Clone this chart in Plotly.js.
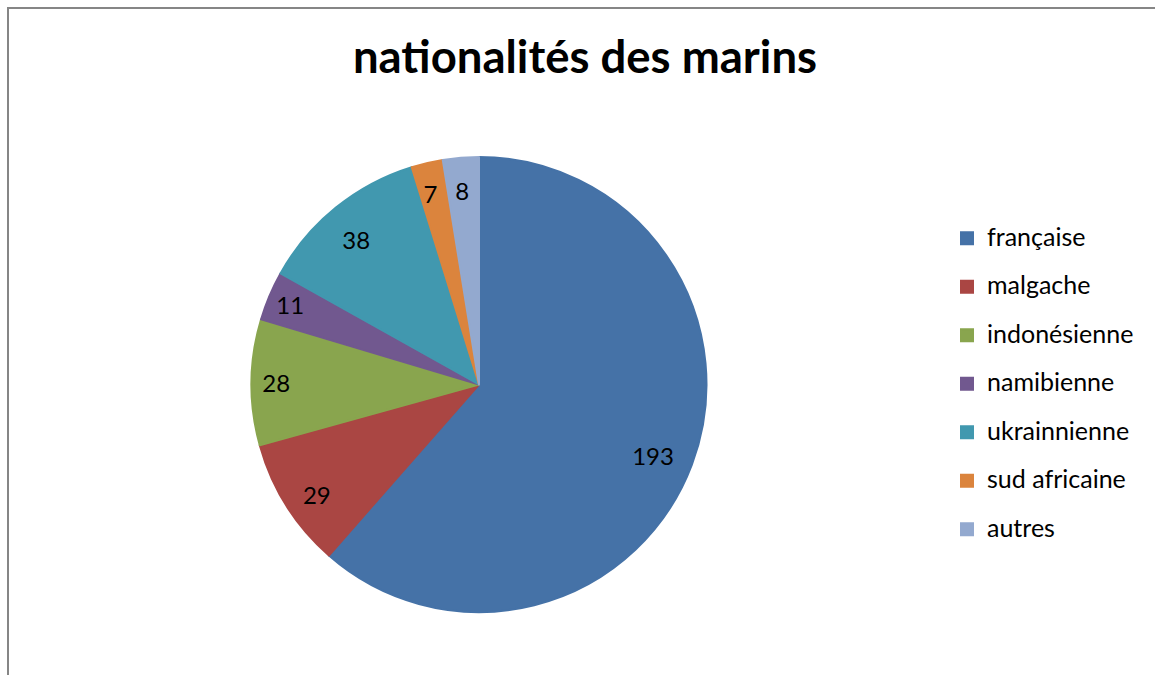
<!DOCTYPE html>
<html>
<head>
<meta charset="utf-8">
<script src="https://cdn.plot.ly/plotly-3.0.1.min.js"></script>
<style>html,body{margin:0;padding:0;background:#fff;}#chart{width:1155px;height:675px;}
#chart text{font-variant-ligatures:none;}</style>
</head>
<body>
<div id="chart"></div>
<script>
const categories = ["française", "malgache", "indonésienne", "namibienne", "ukrainnienne", "sud africaine", "autres"];
const values = [193, 29, 28, 11, 38, 7, 8];
const colors = ["#4572A7", "#AA4643", "#89A54E", "#71588F", "#4198AF", "#DB843D", "#93A9CF"];
const titleText = "nationalités des marins";

const FONT = "Lato, 'Open Sans', sans-serif";
const legendLabels = categories.map(c => '<span style="font-size:25px;baseline-shift:6px">' + c + '</span>');

// label placement nudges (padding with non-breaking spaces / blank lines), mimicking Excel's best-fit label spots
const NB = "\u00a0";
const labelPad = [
  {left: 22, right: 0, above: 2, below: 0},
  {left: 0, right: 4, above: 1, below: 0},
  {left: 0, right: 8, above: 0, below: 0},
  null,
  {left: 0, right: 6, above: 0, below: 1},
  {left: 0, right: 0, above: 1, below: 0},
  {left: 0, right: 0, above: 1, below: 0}
];
const sliceText = values.map((v, i) => {
  const p = labelPad[i];
  if (!p) return String(v);
  return (NB + "<br>").repeat(p.above) + NB.repeat(p.left) + String(v) + NB.repeat(p.right) + ("<br>" + NB).repeat(p.below);
});

const trace = {
  type: "pie",
  labels: legendLabels,
  values: values,
  text: sliceText,
  sort: false,
  direction: "clockwise",
  rotation: 0,
  marker: {colors: colors, line: {color: colors, width: 2}},
  textinfo: "text",
  textposition: "inside",
  insidetextorientation: "horizontal",
  textfont: {family: FONT, size: 24, color: "#000"},
  hoverinfo: "none",
  domain: {x: [251/1155, 707/1155], y: [1 - 612/675, 1 - 157/675]}
};

const layout = {
  width: 1155, height: 675,
  margin: {l: 0, r: 0, t: 0, b: 0},
  paper_bgcolor: "#fff",
  font: {family: FONT, color: "#000"},
  title: {text: "<b>" + titleText + "</b>", font: {family: FONT, size: 45.5, color: "#000"},
          x: 585/1155, xanchor: "center", xref: "paper", y: 1 - 57/675, yanchor: "middle", yref: "paper"},
  showlegend: true,
  legend: {x: 947/1155, xanchor: "left", y: 1 - 384/675, yanchor: "middle",
           font: {family: FONT, size: 35, color: "#000"}, bgcolor: "rgba(0,0,0,0)", itemclick: false},
  uniformtext: {minsize: 24, mode: "show"},
  shapes: [{type: "rect", xref: "paper", yref: "paper", x0: 8/1155, x1: 1.02, y0: -0.02, y1: 1 - 8/675,
            line: {color: "#868686", width: 2}, fillcolor: "rgba(0,0,0,0)"}]
};

Plotly.newPlot("chart", [trace], layout, {displayModeBar: false, staticPlot: true});
</script>
</body>
</html>
